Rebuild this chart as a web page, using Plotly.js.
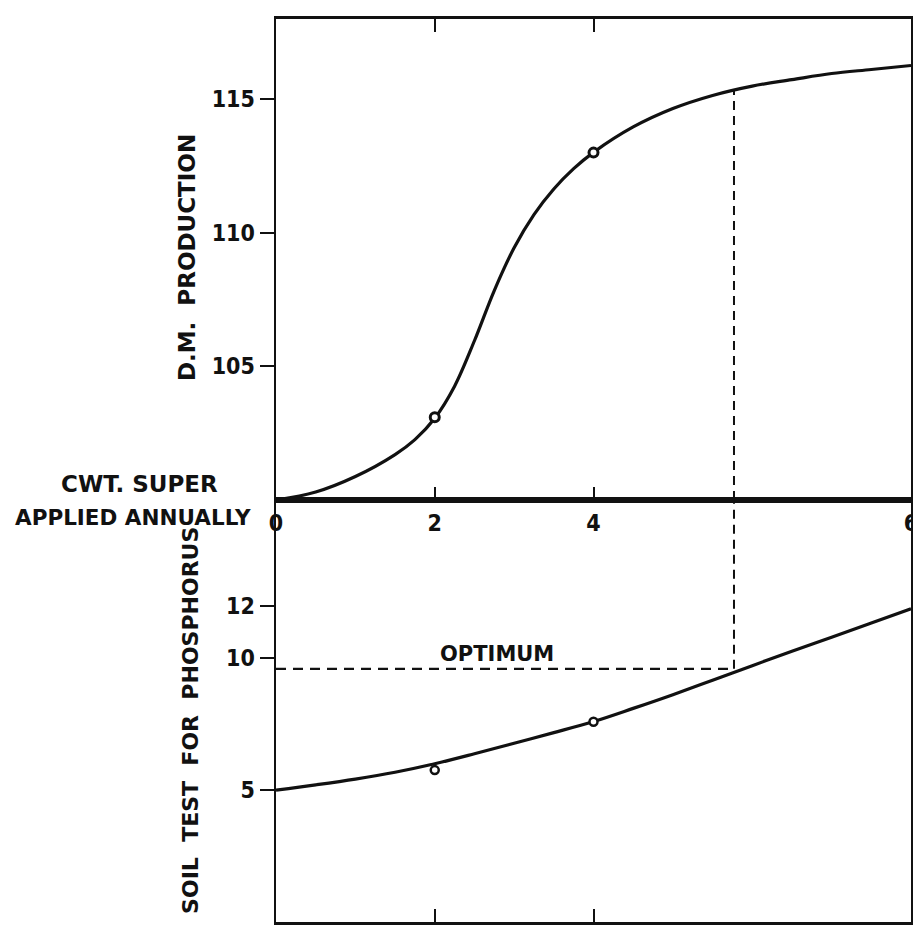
<!DOCTYPE html>
<html>
<head>
<meta charset="utf-8">
<script src="https://cdn.plot.ly/plotly-3.0.1.min.js"></script>
<style>
  html, body { margin: 0; padding: 0; background: #fff; }
  #chart { width: 913px; height: 928px; }
</style>
</head>
<body>
<div id="chart"></div>
<script>
// ---- data ----
const dmCurveX = [0, 0.5, 1, 1.5, 1.75, 2, 2.25, 2.5, 2.75, 3, 3.25, 3.5, 3.75, 4, 4.5, 5, 5.5, 6, 6.5, 7, 7.5, 8];
const dmCurveY = [100, 100.3, 100.88, 101.7, 102.26, 103.06, 104.26, 105.96, 107.84, 109.44, 110.68, 111.64, 112.4, 113.01, 113.96, 114.65, 115.14, 115.49, 115.73, 115.96, 116.11, 116.26];
const dmObsX = [2, 4];
const dmObsY = [103.1, 113.0];

const soilCurveX = [0, 0.5, 1, 1.5, 2, 2.5, 3, 3.5, 4, 4.5, 5, 5.5, 6, 6.5, 7, 7.5, 8];
const soilCurveY = [5.0, 5.2, 5.42, 5.68, 6.0, 6.38, 6.78, 7.18, 7.6, 8.1, 8.62, 9.17, 9.72, 10.27, 10.8, 11.34, 11.88];
const soilObsX = [2, 4];
const soilObsY = [5.76, 7.59];

const optimumCwt = 5.77;
const optimumDM = 115.35;
const optimumSoil = 9.6;

const xTickVals = [0, 2, 4, 8];
const xTickText = ['0', '2', '4', '6'];
const dmTickVals = [105, 110, 115];
const soilTickVals = [5, 10, 12];

const FONT = 'DejaVu Sans, Liberation Sans, sans-serif';
const TICKFONT = 'DejaVu Sans Condensed, DejaVu Sans, sans-serif';
const INK = '#111';

const traces = [
  { x: dmCurveX, y: dmCurveY, xaxis: 'x', yaxis: 'y', mode: 'lines',
    line: { color: INK, width: 3.2, shape: 'spline', smoothing: 1 }, hoverinfo: 'skip' },
  { x: dmObsX, y: dmObsY, xaxis: 'x', yaxis: 'y', mode: 'markers',
    marker: { symbol: 'circle', size: 9, color: '#fff', line: { color: INK, width: 3 } } },
  { x: soilCurveX, y: soilCurveY, xaxis: 'x2', yaxis: 'y2', mode: 'lines',
    line: { color: INK, width: 3.2, shape: 'spline', smoothing: 1 }, hoverinfo: 'skip' },
  { x: soilObsX, y: soilObsY, xaxis: 'x2', yaxis: 'y2', mode: 'markers',
    marker: { symbol: 'circle', size: 8, color: '#fff', line: { color: INK, width: 2.5 } } }
];

const split = 0.4673;

const layout = {
  width: 913, height: 928,
  margin: { l: 276, r: 2, t: 19, b: 6 },
  paper_bgcolor: '#fff', plot_bgcolor: '#fff',
  showlegend: false,
  font: { family: FONT, color: INK, size: 20 },
  xaxis: {
    domain: [0, 1], anchor: 'y', range: [0, 8],
    tickvals: xTickVals, ticktext: xTickText,
    ticks: 'inside', ticklen: 13, tickwidth: 2, tickcolor: INK,
    showline: true, linewidth: 3, linecolor: INK, mirror: 'ticks',
    showgrid: false, zeroline: false, ticklabeloverflow: 'allow',
    tickfont: { family: TICKFONT, size: 23, color: INK, weight: 'bold' }
  },
  yaxis: {
    domain: [split, 1], anchor: 'x', range: [100, 118],
    tickvals: dmTickVals, ticks: 'outside', ticklen: 14, tickwidth: 2, tickcolor: INK,
    showline: true, linewidth: 2.5, linecolor: INK, mirror: true,
    showgrid: false, zeroline: false,
    tickfont: { family: TICKFONT, size: 23, color: INK, weight: 'bold' }
  },
  xaxis2: {
    domain: [0, 1], anchor: 'y2', range: [0, 8], matches: 'x',
    tickvals: xTickVals, showticklabels: false,
    ticks: 'inside', ticklen: 13, tickwidth: 2, tickcolor: INK,
    showline: true, linewidth: 3, linecolor: INK, mirror: true,
    showgrid: false, zeroline: false
  },
  yaxis2: {
    domain: [0, split], anchor: 'x2', range: [0, 16],
    tickvals: soilTickVals, ticks: 'outside', ticklen: 14, tickwidth: 2, tickcolor: INK,
    showline: true, linewidth: 2.5, linecolor: INK, mirror: true,
    showgrid: false, zeroline: false,
    tickfont: { family: TICKFONT, size: 23, color: INK, weight: 'bold' }
  },
  shapes: [
    { type: 'line', xref: 'x', yref: 'y', x0: optimumCwt, x1: optimumCwt, y0: 100, y1: optimumDM,
      line: { color: INK, width: 2, dash: '9px,6px' } },
    { type: 'line', xref: 'x2', yref: 'y2', x0: optimumCwt, x1: optimumCwt, y0: optimumSoil, y1: 16,
      line: { color: INK, width: 2, dash: '9px,6px' } },
    { type: 'line', xref: 'x2', yref: 'y2', x0: 0, x1: optimumCwt, y0: optimumSoil, y1: optimumSoil,
      line: { color: INK, width: 2.2, dash: '10px,7px' } }
  ],
  annotations: [
    { text: 'D.M.  PRODUCTION', xref: 'paper', yref: 'paper', x: -0.140, y: 0.7353,
      xanchor: 'center', yanchor: 'middle', textangle: -90, showarrow: false,
      font: { family: FONT, size: 23, color: INK, weight: 'bold' } },
    { text: 'SOIL  TEST  FOR  PHOSPHORUS', xref: 'paper', yref: 'paper', x: -0.134, y: 0.2237,
      xanchor: 'center', yanchor: 'middle', textangle: -90, showarrow: false,
      font: { family: FONT, size: 22, color: INK, weight: 'bold' } },
    { text: 'CWT. SUPER', xref: 'paper', yref: 'paper', x: -0.0882, y: 0.485,
      xanchor: 'right', yanchor: 'middle', showarrow: false,
      font: { family: FONT, size: 23, color: INK, weight: 'bold' } },
    { text: 'APPLIED ANNUALLY', xref: 'paper', yref: 'paper', x: -0.0362, y: 0.4485,
      xanchor: 'right', yanchor: 'middle', showarrow: false,
      font: { family: FONT, size: 21.5, color: INK, weight: 'bold' } },
    { text: 'OPTIMUM', xref: 'x2', yref: 'y2', x: 2.79, y: 10.15,
      xanchor: 'center', yanchor: 'middle', showarrow: false,
      font: { family: FONT, size: 21, color: INK, weight: 'bold' } }
  ]
};

Plotly.newPlot('chart', traces, layout, { staticPlot: true, displayModeBar: false });
</script>
</body>
</html>
